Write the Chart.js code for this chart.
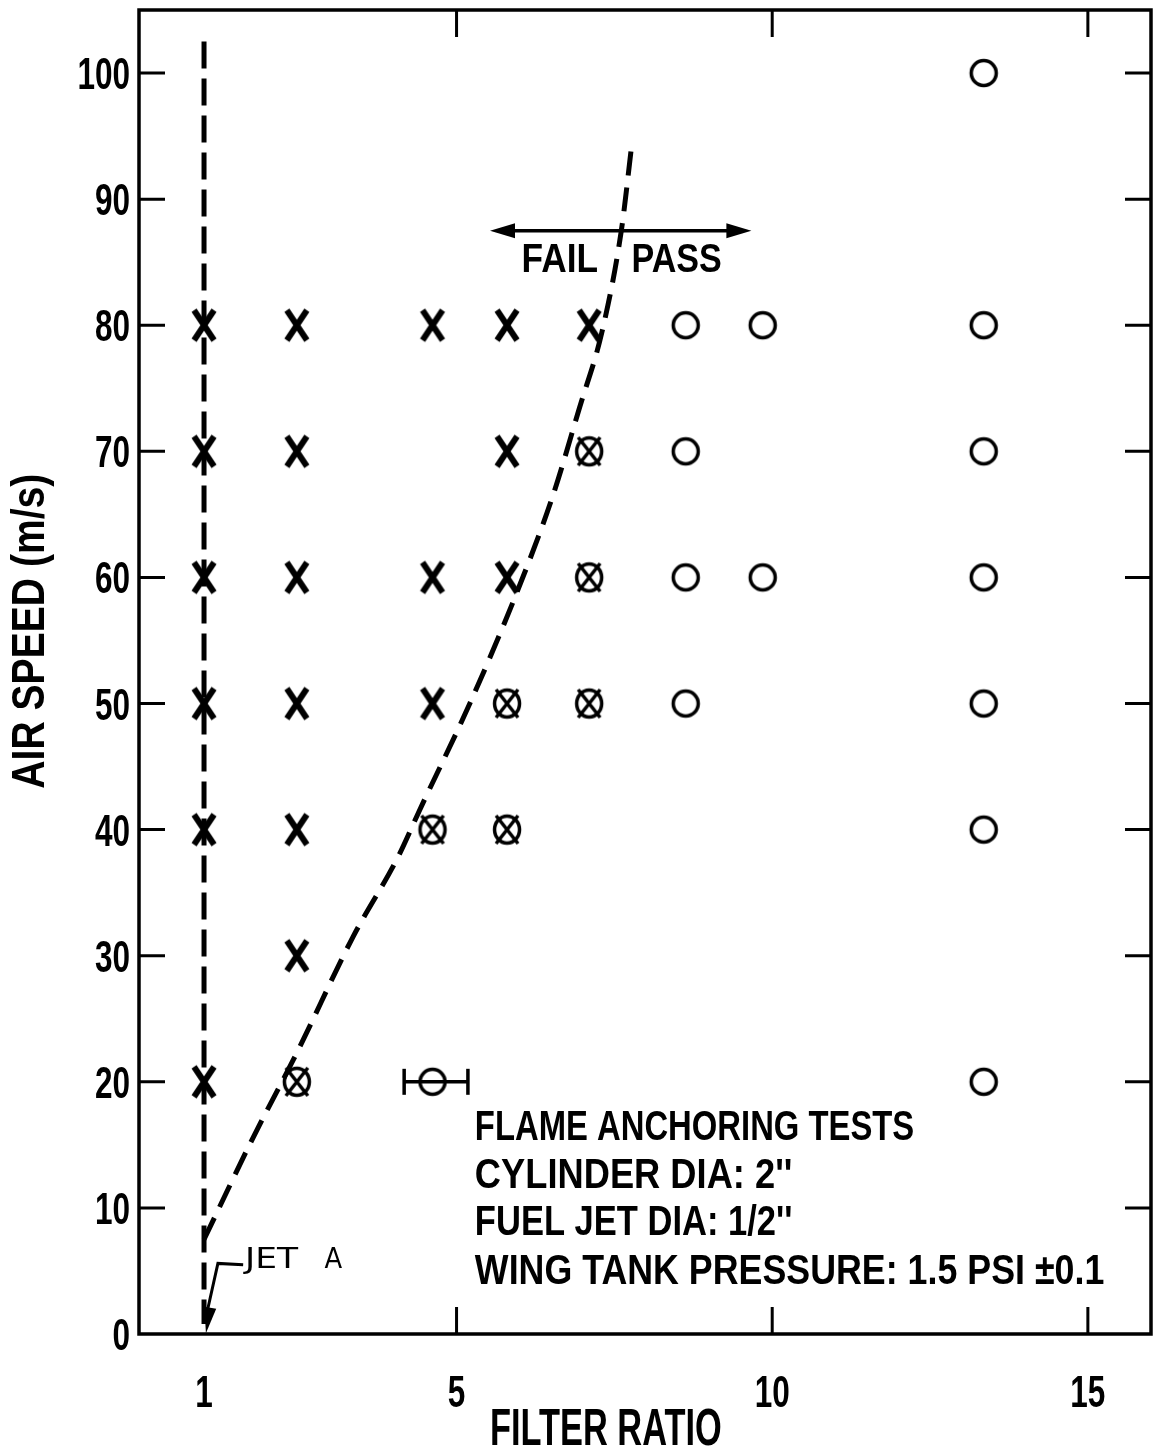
<!DOCTYPE html>
<html><head><meta charset="utf-8">
<script src="https://cdn.jsdelivr.net/npm/chart.js@4.4.1/dist/chart.umd.min.js"></script>
<style>html,body{margin:0;padding:0;background:#fff;}#wrap{width:1156px;height:1451px;}</style>
</head><body><div id="wrap"><canvas id="c" width="1156" height="1451"></canvas></div>
<script>
// ---- data ----
const xTickLabels = [1, 5, 10, 15];
const xTickMarks = [5, 10, 15];
const yTickLabels = [0, 10, 20, 30, 40, 50, 60, 70, 80, 90, 100];
const yTickMarks = [10, 20, 30, 40, 50, 60, 70, 80, 90, 100];

const failX = [1, 1, 1, 1, 1, 1, 2.47, 2.47, 2.47, 2.47, 2.47, 2.47, 4.62, 4.62, 4.62, 5.8, 5.8, 5.8, 7.1];
const failY = [80, 70, 60, 50, 40, 20, 80, 70, 60, 50, 40, 30, 80, 60, 50, 80, 70, 60, 80];

const mixedX = [2.47, 4.62, 5.8, 5.8, 7.1, 7.1, 7.1];
const mixedY = [20, 40, 50, 40, 70, 60, 50];

const passX = [4.62, 8.63, 8.63, 8.63, 8.63, 9.85, 9.85, 13.35, 13.35, 13.35, 13.35, 13.35, 13.35, 13.35];
const passY = [20, 80, 70, 60, 50, 80, 60, 100, 80, 70, 60, 50, 40, 20];

const errBarX = [4.17, 5.18];
const errBarY = [20, 20];

const jetAX = [1, 1];
const jetAY = [102.5, 0.8];

const boundaryX = [1.0, 1.76, 2.47, 3.36, 4.07, 4.42, 5.21, 5.97, 6.52, 6.95, 7.3, 7.61, 7.77];
const boundaryY = [7.5, 15.4, 22.3, 31.5, 37.8, 41.6, 50, 59, 66.4, 73.5, 79.4, 87.5, 94.1];

const notes = ["FLAME ANCHORING TESTS", "CYLINDER DIA: 2''", "FUEL JET DIA: 1/2''", "WING TANK PRESSURE: 1.5 PSI \u00b10.1"];

// ---- helpers ----
const FAM = "'Liberation Sans','Arimo',sans-serif";
const pts = (xs, ys) => xs.map((x, i) => ({x: x, y: ys[i]}));

function markCanvas(kind) {
  const s = 40, c = document.createElement('canvas');
  c.width = s; c.height = s;
  const g = c.getContext('2d');
  g.strokeStyle = '#000'; g.lineCap = 'butt';
  const cx = s / 2, cy = s / 2;
  if (kind === 'x' || kind === 'ox') {
    g.lineWidth = kind === 'x' ? 6 : 3.5;
    const hw = kind === 'x' ? 10 : 11, hh = kind === 'x' ? 15 : 14;
    g.beginPath();
    g.moveTo(cx - hw, cy - hh); g.lineTo(cx + hw, cy + hh);
    g.moveTo(cx + hw, cy - hh); g.lineTo(cx - hw, cy + hh);
    g.stroke();
  }
  if (kind === 'o' || kind === 'ox') {
    g.lineWidth = 3.5;
    g.beginPath();
    g.ellipse(cx, cy, 12.5, kind === 'ox' ? 13.5 : 12.5, 0, 0, Math.PI * 2);
    g.stroke();
  }
  return c;
}
const xImg = markCanvas('x'), oImg = markCanvas('o'), oxImg = markCanvas('ox');

// draw text compressed to a given width (left aligned)
function fitText(g, text, left, baseline, width, font) {
  g.font = font;
  const w = g.measureText(text).width;
  g.save();
  g.translate(left, baseline);
  g.scale(width / w, 1);
  g.textAlign = 'left'; g.textBaseline = 'alphabetic';
  g.fillText(text, 0, 0);
  g.restore();
}
// draw text with a horizontal squeeze factor and alignment
function squeezeText(g, text, x, baseline, sx, font, align) {
  g.font = font;
  g.save();
  g.translate(x, baseline);
  g.scale(sx, 1);
  g.textAlign = align; g.textBaseline = 'alphabetic';
  g.fillText(text, 0, 0);
  g.restore();
}
function arrowHead(g, tipX, tipY, ang, len, hw) {
  g.save(); g.translate(tipX, tipY); g.rotate(ang);
  g.beginPath(); g.moveTo(0, 0); g.lineTo(-len, -hw); g.lineTo(-len, hw); g.closePath(); g.fill();
  g.restore();
}

const framePlugin = {
  id: 'frame',
  afterDraw(chart) {
    const g = chart.ctx, a = chart.chartArea;
    const xs = chart.scales.x, ys = chart.scales.y;
    const X = v => xs.getPixelForValue(v), Y = v => ys.getPixelForValue(v);
    g.save();
    g.strokeStyle = '#000'; g.fillStyle = '#000';
    // frame
    g.lineWidth = 3.5;
    g.strokeRect(a.left, a.top, a.right - a.left, a.bottom - a.top);
    // inward ticks
    g.lineWidth = 3;
    g.beginPath();
    yTickMarks.forEach(v => {
      const y = Y(v);
      g.moveTo(a.left, y); g.lineTo(a.left + 26, y);
      g.moveTo(a.right, y); g.lineTo(a.right - 26, y);
    });
    xTickMarks.forEach(v => {
      const x = X(v);
      g.moveTo(x, a.top); g.lineTo(x, a.top + 27);
      g.moveTo(x, a.bottom); g.lineTo(x, a.bottom - 27);
    });
    g.stroke();

    // tick labels (condensed lettering)
    const tickFont = 'bold 45px ' + FAM;
    yTickLabels.forEach(v => squeezeText(g, String(v), a.left - 9, Y(v) + 16, 0.7, tickFont, 'right'));
    xTickLabels.forEach(v => squeezeText(g, String(v), X(v), a.bottom + 73, 0.7, tickFont, 'center'));

    // axis titles
    fitText(g, 'FILTER RATIO', X(5.53), a.bottom + 111, X(9.2) - X(5.53), 'bold 52px ' + FAM);
    g.save();
    g.translate(a.left - 95, Y(55.7));
    g.rotate(-Math.PI / 2);
    fitText(g, 'AIR SPEED (m/s)', -157, 0, 315, 'bold 46px ' + FAM);
    g.restore();

    // FAIL / PASS arrow
    g.lineWidth = 3.5;
    g.beginPath(); g.moveTo(X(5.53) + 20, Y(87.5)); g.lineTo(X(9.67) - 20, Y(87.5)); g.stroke();
    arrowHead(g, X(5.53), Y(87.5), Math.PI, 25, 7.5);
    arrowHead(g, X(9.67), Y(87.5), 0, 25, 7.5);
    fitText(g, 'FAIL', X(6.03), Y(84.2), X(7.24) - X(6.03), 'bold 41px ' + FAM);
    fitText(g, 'PASS', X(7.77), Y(84.2), X(9.2) - X(7.77), 'bold 41px ' + FAM);

    // JET A label with leader
    const jf = "28px 'DejaVu Sans','Liberation Sans',sans-serif";
    fitText(g, 'JET', X(1.65), Y(5.2), X(2.49) - X(1.65), jf);
    fitText(g, 'A', X(2.91), Y(5.2), X(3.19) - X(2.91), jf);
    g.lineWidth = 3;
    g.beginPath();
    g.moveTo(X(1.62), Y(5.5)); g.lineTo(X(1.22), Y(5.6)); g.lineTo(X(1.06), Y(2.0));
    g.stroke();
    const ang = Math.atan2(Y(0.05) - Y(5.6), X(1.03) - X(1.22));
    arrowHead(g, X(1.03), Y(0.05), ang, 26, 6);

    // notes block
    const noteRight = [12.25, 10.32, 10.32, 15.26];
    const noteBase = [15.4, 11.6, 7.85, 4.0];
    notes.forEach((t, i) => {
      fitText(g, t, X(5.29), Y(noteBase[i]), X(noteRight[i]) - X(5.29), 'bold 42px ' + FAM);
    });
    g.restore();
  }
};

new Chart(document.getElementById('c'), {
  type: 'scatter',
  data: {
    datasets: [
      {label: 'Fail', data: pts(failX, failY), pointStyle: xImg, pointRadius: 14, order: 1},
      {label: 'Fail/Pass', data: pts(mixedX, mixedY), pointStyle: oxImg, pointRadius: 14, order: 1},
      {label: 'Pass', data: pts(passX, passY), pointStyle: oImg, pointRadius: 14, order: 1},
      {label: 'Range', data: pts(errBarX, errBarY), showLine: true, borderColor: '#000', borderWidth: 3.5,
       pointStyle: 'line', rotation: 90, pointRadius: 13, pointBorderWidth: 3.5, pointBorderColor: '#000', order: 2},
      {label: 'Jet A', data: pts(jetAX, jetAY), showLine: true, borderColor: '#000', borderWidth: 5,
       borderDash: [27, 10], pointRadius: 0, order: 3},
      {label: 'Boundary', data: pts(boundaryX, boundaryY), showLine: true, borderColor: '#000', borderWidth: 5,
       borderDash: [24, 12], pointRadius: 0, cubicInterpolationMode: 'monotone', order: 3}
    ]
  },
  options: {
    responsive: false, animation: false, events: [],
    layout: {autoPadding: false, padding: {top: 10, right: 5, left: 0, bottom: 0}},
    plugins: {legend: {display: false}, tooltip: {enabled: false}},
    scales: {
      x: {
        type: 'linear', min: -0.03, max: 16,
        afterBuildTicks: s => { s.ticks = xTickLabels.map(v => ({value: v})); },
        afterFit: s => { s.height = 117; s.paddingLeft = 0; s.paddingRight = 0; },
        grid: {display: false, drawTicks: false}, border: {display: false},
        ticks: {display: false}
      },
      y: {
        type: 'linear', min: 0, max: 105,
        afterBuildTicks: s => { s.ticks = yTickLabels.map(v => ({value: v})); },
        afterFit: s => { s.width = 139; s.paddingTop = 0; s.paddingBottom = 0; },
        grid: {display: false, drawTicks: false}, border: {display: false},
        ticks: {display: false}
      }
    }
  },
  plugins: [framePlugin]
});
</script>
</body></html>
